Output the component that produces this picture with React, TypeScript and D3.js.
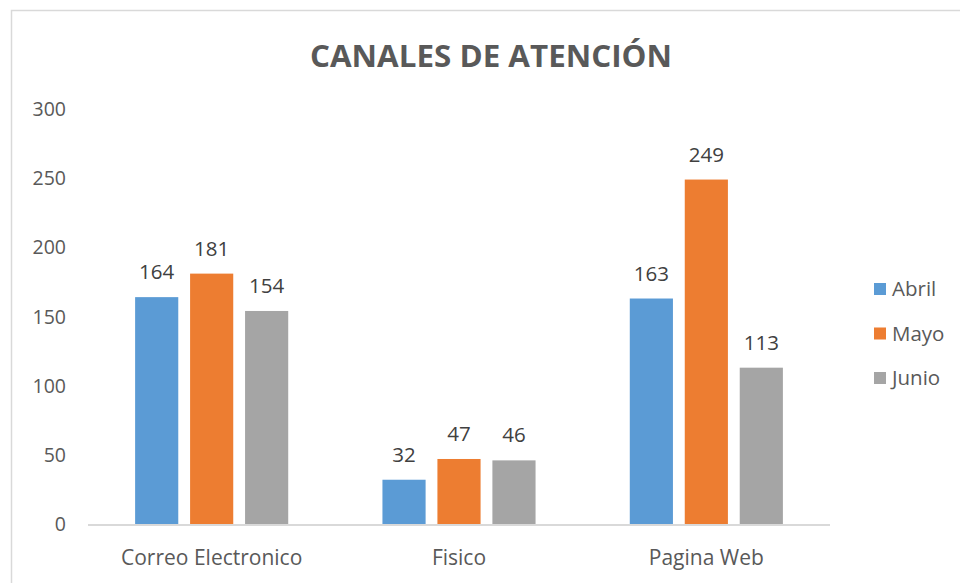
import React from "react";
import * as d3 from "d3";

const categories = ["Correo Electronico", "Fisico", "Pagina Web"];
const seriesNames = ["Abril", "Mayo", "Junio"];
const abril = [164, 32, 163];
const mayo = [181, 47, 249];
const junio = [154, 46, 113];
const yTicks = [0, 50, 100, 150, 200, 250, 300];
const colors = ["#5B9BD5", "#ED7D31", "#A5A5A5"];
const title = "CANALES DE ATENCIÓN";

const W = 960;
const H = 583;
const FONT = "'Open Sans', 'Liberation Sans', sans-serif";

export default function App() {
  const seriesValues = [abril, mayo, junio];
  const plotLeft = 88;
  const plotRight = 830;
  const plotTop = 109;
  const plotBottom = 524;

  const y = d3.scaleLinear().domain([0, 300]).range([plotBottom, plotTop]);
  const x0 = d3.scaleBand<string>().domain(categories).range([plotLeft, plotRight]).padding(0);
  const x1 = d3
    .scaleBand<string>()
    .domain(seriesNames)
    .range([0, x0.bandwidth()])
    .paddingInner(0.215)
    .paddingOuter(0.857);

  return (
    <svg
      width={W}
      height={H}
      style={{ position: "fixed", left: 0, top: 0, background: "#fff" }}
      fontFamily={FONT}
    >
      <rect x={0} y={0} width={W} height={H} fill="#fff" />
      <rect x={11.5} y={10.5} width={W + 20} height={H + 20} fill="#fff" stroke="#D9D9D9" strokeWidth={1.5} />
      <text
        x={491}
        y={67}
        textAnchor="middle"
        fontSize={30}
        fontWeight="bold"
        fill="#595959"
        textLength={362}
        lengthAdjust="spacingAndGlyphs"
      >
        {title}
      </text>
      {yTicks.map((t) => (
        <text key={t} x={66} y={y(t) + 7} textAnchor="end" fontSize={19.5} fill="#595959">
          {t}
        </text>
      ))}
      {categories.map((c, ci) =>
        seriesNames.map((s, si) => {
          const v = seriesValues[si][ci];
          const bx = (x0(c) ?? 0) + (x1(s) ?? 0);
          const bw = x1.bandwidth();
          return (
            <g key={c + s}>
              <rect x={bx} y={y(v)} width={bw} height={plotBottom - y(v)} fill={colors[si]} />
              <text x={bx + bw / 2} y={y(v) - 18} textAnchor="middle" fontSize={20.5} fill="#404040">
                {v}
              </text>
            </g>
          );
        })
      )}
      <line x1={plotLeft} x2={plotRight} y1={plotBottom + 1} y2={plotBottom + 1} stroke="#D9D9D9" strokeWidth={2} />
      {categories.map((c) => (
        <text
          key={c}
          x={(x0(c) ?? 0) + x0.bandwidth() / 2}
          y={565}
          textAnchor="middle"
          fontSize={21}
          fill="#595959"
        >
          {c}
        </text>
      ))}
      {seriesNames.map((s, i) => (
        <g key={s} transform={`translate(874, ${289 + i * 44.5})`}>
          <rect x={0} y={-6} width={12} height={12} fill={colors[i]} />
          <text x={18} y={7} fontSize={20.5} fill="#595959">
            {s}
          </text>
        </g>
      ))}
    </svg>
  );
}
